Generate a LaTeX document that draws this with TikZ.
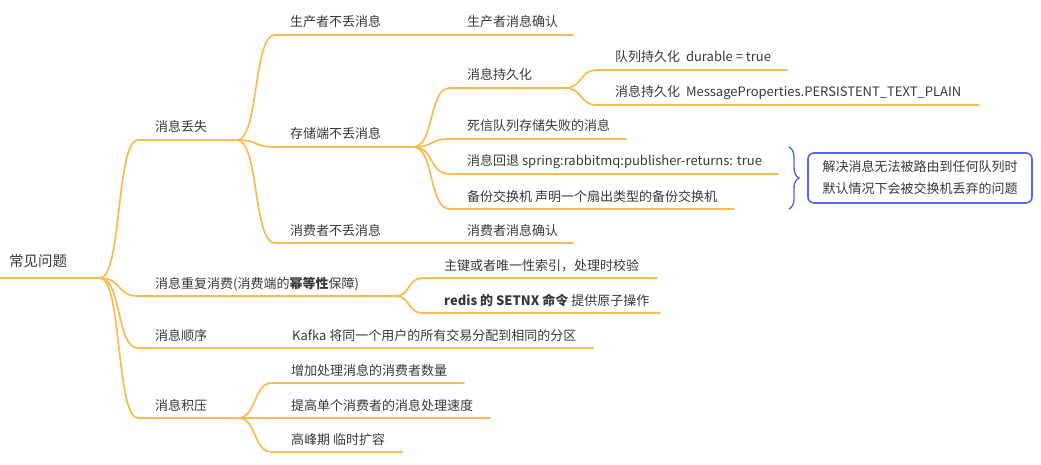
\documentclass[tikz,border=0pt]{standalone}
\usepackage{fontspec}
\setmainfont{Noto Sans CJK SC}
\usetikzlibrary{calc,decorations.pathreplacing}
\definecolor{lnc}{HTML}{F9BA4E}
\definecolor{txc}{HTML}{383838}
\definecolor{bluec}{HTML}{5566EE}
\begin{document}
\begin{tikzpicture}[x=1pt,y=-1pt,
  ln/.style={draw=lnc, line width=1.7pt, line cap=round},
  txt/.style={anchor=base west, inner sep=0pt, font=\fontsize{13}{15}\selectfont, text=txc},
  roottxt/.style={anchor=base west, inner sep=0pt, font=\fontsize{14.5}{17}\selectfont, text=txc},
  notebox/.style={draw=bluec, line width=1.6pt, rounded corners=6pt, minimum width=224pt, minimum height=50pt, align=center, inner sep=0pt, font=\fontsize{13}{22}\selectfont, text=txc},
  brc/.style={draw=bluec, line width=1.4pt, decorate, decoration={brace, amplitude=10pt}}
]
\useasboundingbox (0,0) rectangle (1041,465);

% root
\coordinate (rs) at (0,278); \coordinate (re) at (100,278);
\node[roottxt] (rt) at (9,266.5) {常见问题};
\draw[ln] (rs) -- (re);

% level 1
\coordinate (a1s) at (138,140); \coordinate (a1e) at (237,140);
\node[txt] (a1t) at (155,132) {消息丢失};
\coordinate (a2s) at (138,296); \coordinate (a2e) at (395,296);
\node[txt] (a2t) at (155,288) {消息重复消费(消费端的\textbf{幂等性}保障)};
\coordinate (a3s) at (138,348); \coordinate (a3e) at (275,348);
\node[txt] (a3t) at (155,340) {消息顺序};
\coordinate (a4s) at (138,418); \coordinate (a4e) at (238,418);
\node[txt] (a4t) at (155,410) {消息积压};
\foreach \c in {a1s,a2s,a3s,a4s}{
  \draw[ln] (re) .. controls +(22,0) and +(-22,0) .. (\c);
}
\draw[ln] (a1s) -- (a1e);
\draw[ln] (a2s) -- (a2e);
\draw[ln] (a3s) -- (a3e);
\draw[ln] (a4s) -- (a4e);

% under 消息丢失
\coordinate (b1s) at (275,35); \coordinate (b1e) at (450,35);
\node[txt] (b1t) at (290,27) {生产者不丢消息};
\coordinate (b2s) at (275,147); \coordinate (b2e) at (413,147);
\node[txt] (b2t) at (290,139) {存储端不丢消息};
\coordinate (b3s) at (275,243); \coordinate (b3e) at (450,243);
\node[txt] (b3t) at (290,235) {消费者不丢消息};
\foreach \c in {b1s,b2s,b3s}{
  \draw[ln] (a1e) .. controls +(22,0) and +(-22,0) .. (\c);
}
\draw[ln] (b1s) -- (b1e);
\draw[ln] (b2s) -- (b2e);
\draw[ln] (b3s) -- (b3e);

\coordinate (c1e) at (573,35);
\node[txt] (c1t) at (467,27) {生产者消息确认};
\draw[ln] (b1e) -- (c1e);
\coordinate (c9e) at (573,243);
\node[txt] (c9t) at (467,235) {消费者消息确认};
\draw[ln] (b3e) -- (c9e);

% under 存储端不丢消息
\coordinate (d1s) at (450,88);  \coordinate (d1e) at (565,88);
\node[txt] (d1t) at (467,80) {消息持久化};
\coordinate (d2s) at (450,139); \coordinate (d2e) at (626,139);
\node[txt] (d2t) at (467,131) {死信队列存储失败的消息};
\coordinate (d3s) at (450,174); \coordinate (d3e) at (778,174);
\node[txt] (d3t) at (467,166) {消息回退 spring:rabbitmq:publisher-returns: true};
\coordinate (d4s) at (450,209); \coordinate (d4e) at (734,209);
\node[txt] (d4t) at (467,201) {备份交换机 声明一个扇出类型的备份交换机};
\foreach \c in {d1s,d2s,d3s,d4s}{
  \draw[ln] (b2e) .. controls +(22,0) and +(-22,0) .. (\c);
}
\draw[ln] (d1s) -- (d1e);
\draw[ln] (d2s) -- (d2e);
\draw[ln] (d3s) -- (d3e);
\draw[ln] (d4s) -- (d4e);

% under 消息持久化
\coordinate (e1s) at (597,70);  \coordinate (e1e) at (787,70);
\node[txt] (e1t) at (615,62) {队列持久化\ \ durable = true};
\coordinate (e2s) at (597,105); \coordinate (e2e) at (979,105);
\node[txt] (e2t) at (615,97) {消息持久化\ \ MessageProperties.PERSISTENT\_TEXT\_PLAIN};
\foreach \c in {e1s,e2s}{
  \draw[ln] (d1e) .. controls +(18,0) and +(-18,0) .. (\c);
}
\draw[ln] (e1s) -- (e1e);
\draw[ln] (e2s) -- (e2e);

% brace and note
\coordinate (bt) at (789,147); \coordinate (bb) at (789,209);
\draw[brc] (bt) -- (bb);
\node[notebox] (note) at (920,178) {解决消息无法被路由到任何队列时\\默认情况下会被交换机丢弃的问题};

% under 消息重复消费
\coordinate (f1s) at (423,278); \coordinate (f1e) at (657,278);
\node[txt] (f1t) at (444,270) {主键或者唯一性索引，处理时校验};
\coordinate (f2s) at (423,313); \coordinate (f2e) at (660,313);
\node[txt] (f2t) at (444,305) {\textbf{redis 的 SETNX 命令} 提供原子操作};
\foreach \c in {f1s,f2s}{
  \draw[ln] (a2e) .. controls +(16,0) and +(-16,0) .. (\c);
}
\draw[ln] (f1s) -- (f1e);
\draw[ln] (f2s) -- (f2e);

% under 消息顺序
\coordinate (g1e) at (593,348);
\node[txt] (g1t) at (292,340) {Kafka 将同一个用户的所有交易分配到相同的分区};
\draw[ln] (a3e) -- (g1e);

% under 消息积压
\coordinate (h1s) at (272,383); \coordinate (h1e) at (464,383);
\node[txt] (h1t) at (291,375) {增加处理消息的消费者数量};
\coordinate (h2s) at (272,418); \coordinate (h2e) at (490,418);
\node[txt] (h2t) at (291,410) {提高单个消费者的消息处理速度};
\coordinate (h3s) at (272,452); \coordinate (h3e) at (402,452);
\node[txt] (h3t) at (291,444) {高峰期 临时扩容};
\foreach \c in {h1s,h2s,h3s}{
  \draw[ln] (a4e) .. controls +(19,0) and +(-19,0) .. (\c);
}
\draw[ln] (h1s) -- (h1e);
\draw[ln] (h2s) -- (h2e);
\draw[ln] (h3s) -- (h3e);
\end{tikzpicture}
\end{document}
